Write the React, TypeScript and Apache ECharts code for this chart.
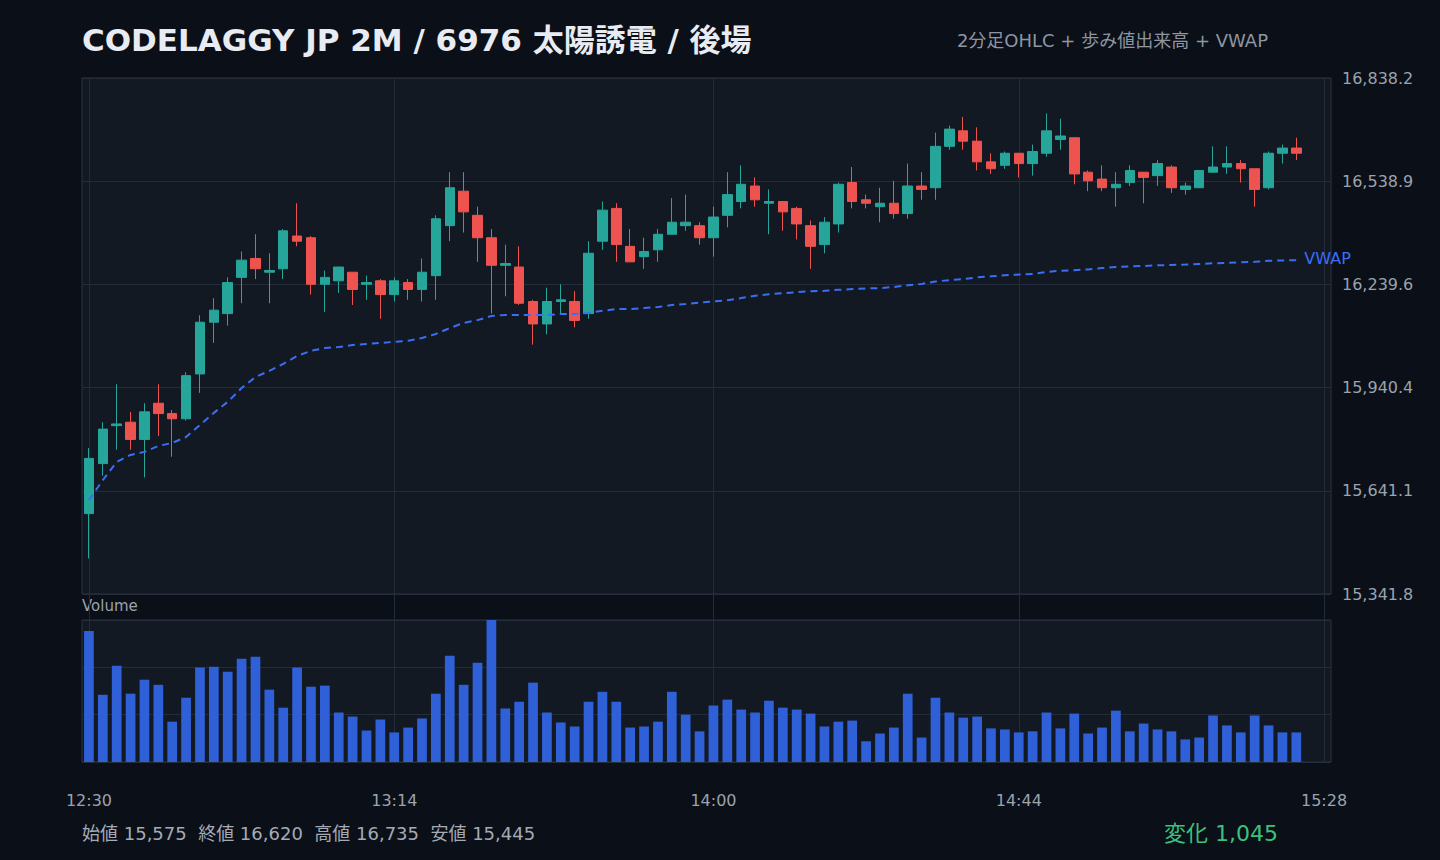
import React, { useEffect, useRef } from "react";
import * as echarts from "echarts";

const times = [
  "12:30", "12:32", "12:34", "12:36", "12:38", "12:40", "12:42", "12:44", "12:46", "12:48",
  "12:50", "12:52", "12:54", "12:56", "12:58", "13:00", "13:02", "13:04", "13:06", "13:08",
  "13:10", "13:12", "13:14", "13:16", "13:18", "13:20", "13:22", "13:24", "13:26", "13:28",
  "13:30", "13:32", "13:34", "13:36", "13:38", "13:40", "13:42", "13:44", "13:46", "13:48",
  "13:50", "13:52", "13:54", "13:56", "13:58", "14:00", "14:02", "14:04", "14:06", "14:08",
  "14:10", "14:12", "14:14", "14:16", "14:18", "14:20", "14:22", "14:24", "14:26", "14:28",
  "14:30", "14:32", "14:34", "14:36", "14:38", "14:40", "14:42", "14:44", "14:46", "14:48",
  "14:50", "14:52", "14:54", "14:56", "14:58", "15:00", "15:02", "15:04", "15:06", "15:08",
  "15:10", "15:12", "15:14", "15:16", "15:18", "15:20", "15:22", "15:24", "15:26", "15:28",
];

const opens = [
  15575, 15720, 15830, 15840, 15790, 15895, 15865, 15850, 15980, 16130,
  16155, 16260, 16315, 16275, 16285, 16380, 16375, 16240, 16250, 16275,
  16240, 16250, 16210, 16245, 16225, 16265, 16410, 16510, 16440, 16375,
  16295, 16290, 16190, 16125, 16190, 16190, 16155, 16365, 16460, 16350,
  16320, 16340, 16385, 16410, 16410, 16375, 16440, 16480, 16525, 16475,
  16480, 16460, 16410, 16355, 16415, 16535, 16485, 16465, 16475, 16445,
  16525, 16520, 16640, 16685, 16655, 16595, 16585, 16620, 16590, 16620,
  16660, 16665, 16565, 16545, 16520, 16535, 16565, 16555, 16580, 16515,
  16520, 16565, 16580, 16590, 16575, 16520, 16620, 16635,
];
const closes = [
  15735, 15820, 15835, 15790, 15870, 15865, 15850, 15975, 16130, 16165,
  16245, 16310, 16285, 16280, 16395, 16365, 16240, 16260, 16290, 16225,
  16245, 16210, 16250, 16225, 16275, 16430, 16520, 16450, 16375, 16295,
  16300, 16185, 16125, 16190, 16195, 16135, 16330, 16455, 16355, 16305,
  16335, 16385, 16420, 16420, 16375, 16435, 16500, 16530, 16485, 16480,
  16450, 16415, 16350, 16420, 16530, 16480, 16475, 16475, 16445, 16525,
  16515, 16640, 16690, 16655, 16595, 16575, 16620, 16590, 16625, 16685,
  16670, 16560, 16540, 16520, 16530, 16570, 16550, 16590, 16520, 16525,
  16570, 16580, 16590, 16575, 16515, 16620, 16635, 16620,
];
const lows = [
  15445, 15685, 15760, 15760, 15680, 15800, 15740, 15845, 15925, 16070,
  16120, 16185, 16255, 16185, 16255, 16350, 16210, 16160, 16215, 16180,
  16195, 16140, 16190, 16195, 16190, 16195, 16365, 16390, 16305, 16155,
  16205, 16180, 16065, 16095, 16155, 16115, 16140, 16340, 16305, 16305,
  16285, 16305, 16385, 16395, 16355, 16320, 16405, 16460, 16465, 16385,
  16395, 16370, 16285, 16330, 16390, 16460, 16460, 16420, 16430, 16430,
  16485, 16485, 16630, 16630, 16570, 16560, 16575, 16550, 16555, 16610,
  16630, 16530, 16510, 16510, 16465, 16525, 16475, 16525, 16505, 16500,
  16520, 16565, 16560, 16535, 16465, 16515, 16590, 16600,
];
const highs = [
  15765, 15840, 15950, 15870, 15895, 15950, 15875, 15985, 16150, 16200,
  16260, 16335, 16385, 16330, 16400, 16475, 16380, 16280, 16290, 16275,
  16265, 16255, 16260, 16255, 16315, 16440, 16565, 16565, 16465, 16400,
  16355, 16350, 16195, 16230, 16240, 16220, 16365, 16480, 16475, 16400,
  16375, 16400, 16490, 16500, 16420, 16465, 16565, 16585, 16550, 16515,
  16480, 16465, 16425, 16435, 16535, 16580, 16500, 16520, 16540, 16590,
  16565, 16680, 16700, 16725, 16695, 16620, 16625, 16620, 16645, 16735,
  16720, 16665, 16570, 16585, 16565, 16585, 16565, 16600, 16585, 16535,
  16570, 16640, 16640, 16600, 16575, 16625, 16645, 16665,
];
const volumes = [
  48700, 25000, 35800, 25400, 30600, 28700, 15000, 23900, 35100, 35400,
  33600, 38400, 39100, 26900, 20200, 35100, 28000, 28400, 18400, 16900,
  11700, 15800, 11000, 12800, 16200, 25400, 39500, 28700, 36900, 52800,
  19900, 22400, 29500, 18400, 14700, 13200, 22400, 26100, 22400, 12800,
  13200, 15000, 26100, 17600, 11400, 21000, 23200, 19500, 18400, 22800,
  20200, 19500, 18000, 13200, 15000, 15400, 7700, 10600, 12800, 25400,
  9100, 23900, 18400, 16500, 16900, 12500, 12100, 11000, 11400, 18400,
  12500, 18000, 10600, 12800, 19100, 11400, 14300, 12100, 11400, 8400,
  9100, 17300, 13600, 11000, 17300, 13600, 11000, 11000,
];
const vwap = [
  15614, 15672, 15725, 15745, 15754, 15771, 15780, 15797, 15832, 15867,
  15899, 15939, 15971, 15989, 16009, 16032, 16047, 16055, 16058, 16064,
  16067, 16070, 16073, 16076, 16084, 16096, 16113, 16128, 16136, 16148,
  16151, 16151, 16151, 16151, 16154, 16154, 16157, 16163, 16168, 16168,
  16171, 16174, 16180, 16183, 16187, 16190, 16194, 16200, 16207, 16211,
  16214, 16217, 16220, 16221, 16224, 16226, 16228, 16229, 16232, 16237,
  16241, 16248, 16252, 16255, 16260, 16263, 16266, 16268, 16270, 16276,
  16279, 16281, 16283, 16287, 16290, 16292, 16293, 16295, 16296, 16297,
  16299, 16301, 16302, 16304, 16305, 16308, 16309, 16310,
];
const priceTicks = [15341.8, 15641.1, 15940.4, 16239.6, 16538.9, 16838.2];
const timeLabelIdx = [0, 22, 45, 67, 89];

const FONT = '"DejaVu Sans", "Noto Sans CJK JP", sans-serif';
const BG = "#0b0f17";
const PLOT_BG = "#121922";
const GRID_LINE = "#232c38";
const BORDER = "#2a3440";
const UP = "#26a69a";
const DOWN = "#ef5350";
const VWAP_COLOR = "#3a6ef6";
const VOL_COLOR = "#2f60d8";
const MUTED = "#9aa3ae";

export default function App() {
  const ref = useRef<HTMLDivElement>(null);

  useEffect(() => {
    const chart = echarts.init(ref.current as HTMLDivElement, null, { renderer: "svg" });
    const candles = opens.map((o, i) => [o, closes[i], lows[i], highs[i]]);
    const volMax = Math.max(...volumes);
    const first = opens[0];
    const last = closes[closes.length - 1];
    const hi = Math.max(...highs);
    const lo = Math.min(...lows);
    const fmt = (v: number) => v.toLocaleString("en-US");
    const change = last - first;

    const option: any = {
      animation: false,
      backgroundColor: BG,
      textStyle: { fontFamily: FONT },
      grid: [
        { left: 82, top: 78, width: 1249, height: 516, show: true, backgroundColor: PLOT_BG, borderColor: BORDER, borderWidth: 1 },
        { left: 82, top: 620, width: 1249, height: 142, show: true, backgroundColor: PLOT_BG, borderColor: BORDER, borderWidth: 1 },
        { left: 82, top: 78, width: 1249, height: 684, show: false },
      ],
      xAxis: [
        {
          type: "category", gridIndex: 0, data: times, boundaryGap: true,
          axisLine: { show: false }, axisTick: { show: false }, axisLabel: { show: false }, splitLine: { show: false },
        },
        {
          type: "category", gridIndex: 1, data: times, boundaryGap: true,
          axisLine: { show: false }, axisTick: { show: false }, splitLine: { show: false },
          axisLabel: {
            show: true,
            interval: (idx: number) => timeLabelIdx.includes(idx),
            color: MUTED, fontSize: 16, margin: 30, fontFamily: FONT,
          },
        },
        {
          type: "value", gridIndex: 2, min: -0.5, max: times.length - 0.5,
          axisLine: { show: false },
          axisTick: { show: false, customValues: timeLabelIdx },
          axisLabel: { show: false, customValues: timeLabelIdx },
          splitLine: { show: true, lineStyle: { color: GRID_LINE, width: 1 } },
        },
      ],
      yAxis: [
        {
          type: "value", gridIndex: 0, position: "right",
          min: priceTicks[0], max: priceTicks[priceTicks.length - 1],
          axisLine: { show: false },
          axisTick: { show: false, customValues: priceTicks },
          axisLabel: {
            customValues: priceTicks,
            color: MUTED, fontSize: 16, margin: 11, fontFamily: FONT,
            formatter: (v: number) => v.toLocaleString("en-US", { minimumFractionDigits: 1, maximumFractionDigits: 1 }),
          },
          splitLine: { show: true, lineStyle: { color: GRID_LINE, width: 1 } },
        },
        {
          type: "value", gridIndex: 1, min: 0, max: volMax, interval: volMax / 3,
          axisLine: { show: false }, axisTick: { show: false }, axisLabel: { show: false },
          splitLine: { show: true, lineStyle: { color: GRID_LINE, width: 1 } },
        },
        { type: "value", gridIndex: 2, min: 0, max: 1, show: false },
      ],
      series: [
        {
          type: "candlestick", xAxisIndex: 0, yAxisIndex: 0, data: candles, barWidth: "72%",
          itemStyle: { color: UP, color0: DOWN, borderColor: UP, borderColor0: DOWN, borderWidth: 1 },
          z: 3,
        },
        {
          type: "line", xAxisIndex: 0, yAxisIndex: 0, data: vwap, symbol: "none", silent: true,
          lineStyle: { color: VWAP_COLOR, width: 2, type: [7, 5] },
          endLabel: { show: true, formatter: "VWAP", color: VWAP_COLOR, fontSize: 16, distance: 8, offset: [0, -2], fontFamily: FONT },
          z: 4,
        },
        {
          type: "bar", xAxisIndex: 1, yAxisIndex: 1, data: volumes, barWidth: "70%",
          itemStyle: { color: VOL_COLOR },
        },
      ],
      graphic: [
        {
          type: "text", x: 82, y: 40, silent: true,
          style: {
            text: "CODELAGGY JP 2M / 6976 太陽誘電 / 後場",
            fill: "#e8ecf2", font: `bold 31px ${FONT}`, textAlign: "left", textVerticalAlign: "middle",
          },
        },
        {
          type: "text", x: 1268, y: 40, silent: true,
          style: {
            text: "2分足OHLC + 歩み値出来高 + VWAP",
            fill: "#8d96a2", font: `18px ${FONT}`, textAlign: "right", textVerticalAlign: "middle",
          },
        },
        {
          type: "text", x: 82, y: 606, silent: true,
          style: { text: "Volume", fill: MUTED, font: `15px ${FONT}`, textAlign: "left", textVerticalAlign: "middle" },
        },
        {
          type: "text", x: 82, y: 833, silent: true,
          style: {
            text: `始値 ${fmt(first)}  終値 ${fmt(last)}  高値 ${fmt(hi)}  安値 ${fmt(lo)}`,
            fill: "#a3abb6", font: `18px ${FONT}`, textAlign: "left", textVerticalAlign: "middle",
          },
        },
        {
          type: "text", x: 1278, y: 833, silent: true,
          style: {
            text: `変化 ${fmt(change)}`,
            fill: change >= 0 ? "#3cc17d" : DOWN, font: `22px ${FONT}`, textAlign: "right", textVerticalAlign: "middle",
          },
        },
      ],
    };

    chart.setOption(option);
    return () => chart.dispose();
  }, []);

  return (
    <div
      ref={ref}
      style={{ position: "fixed", left: 0, top: 0, width: 1440, height: 860, background: BG }}
    />
  );
}
